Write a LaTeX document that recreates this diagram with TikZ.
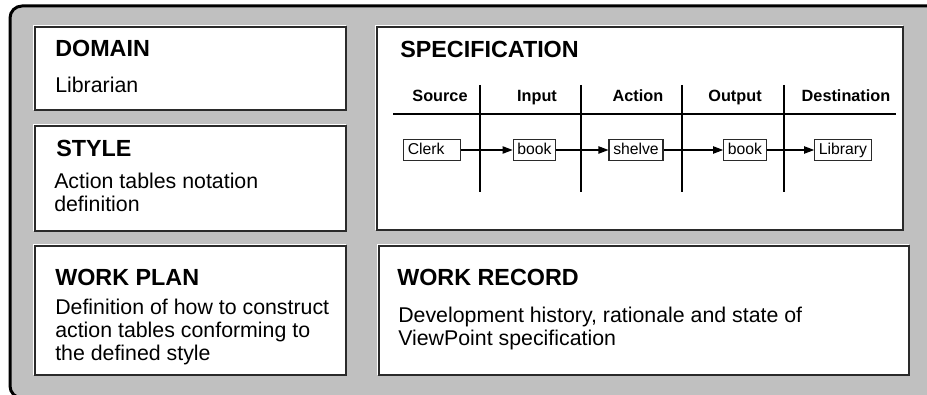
\documentclass[tikz,border=0pt]{standalone}
\usepackage{fontspec}
\setmainfont{Liberation Sans}
\usetikzlibrary{arrows.meta}
\definecolor{framegray}{HTML}{C0C0C0}
\definecolor{edgedark}{HTML}{2A2A2A}
\newcommand\vppanel[4]{%
  \draw[white, line width=0.9pt] (#1-1.5,#4) -- (#1-1.5,#2-1.5) -- (#3,#2-1.5);
  \draw[fill=white, draw=edgedark, line width=1pt] (#1,#2) rectangle (#3,#4);
}
\begin{document}
\begin{tikzpicture}[x=0.75pt,y=-0.75pt,
  head/.style={inner sep=0pt, anchor=base west, font=\fontsize{17.5}{21}\selectfont\bfseries},
  body/.style={inner sep=0pt, anchor=base west, font=\fontsize{16}{18}\selectfont},
  colhead/.style={inner sep=0pt, anchor=base, font=\fontsize{12.2}{14}\selectfont\bfseries},
  item/.style={draw=edgedark, line width=0.8pt, fill=white, inner xsep=3.2pt, inner ysep=2.6pt,
    text height=8.6pt, text depth=2.4pt, font=\fontsize{11.8}{13}\selectfont},
  rule/.style={line width=0.8pt, black},
  arr/.style={line width=0.8pt, black, -{Triangle[length=7.5pt, width=5.5pt]}}
]
\useasboundingbox (0,0) rectangle (927,395);
\begin{scope}
  \clip (0,0) rectangle (927,395);
  \draw[line width=2.25pt, fill=framegray, rounded corners=9pt] (10,6) rectangle (990,398);
\end{scope}

% panels
\vppanel{35}{27}{346}{110}
\vppanel{35}{126}{346}{231}
\vppanel{35}{246}{346}{375}
\vppanel{377}{27}{903}{230}
\vppanel{379}{246}{909}{375}

% DOMAIN
\node[head] (domh) at (55,57) {DOMAIN};
\node[body] (domb) at (55,93) {Librarian};
% STYLE
\node[head] (styh) at (56,157) {STYLE};
\node[body] (sty1) at (54,189) {Action tables notation};
\node[body] (sty2) at (54,212) {definition};
% WORK PLAN
\node[head] (wph) at (55,285) {WORK PLAN};
\node[body] (wp1) at (55,314) {Definition of how to construct};
\node[body] (wp2) at (55,337) {action tables conforming to};
\node[body] (wp3) at (55,360) {the defined style};
% SPECIFICATION
\node[head] (spech) at (400,58) {SPECIFICATION};
\node[colhead] (cs) at (440,102) {Source};
\node[colhead] (ci) at (537,102) {Input};
\node[colhead] (ca) at (638,102) {Action};
\node[colhead] (co) at (735,102) {Output};
\node[colhead] (cd) at (846,102) {Destination};
\coordinate (hl) at (393,114);
\coordinate (hr) at (896,114);
\draw[rule] (hl) -- (hr);
\foreach \xx/\nm in {480/a,581/b,682/c,784/d}{
  \coordinate (v\nm t) at (\xx,85);
  \coordinate (v\nm b) at (\xx,192);
  \draw[rule] (v\nm t) -- (v\nm b);
}
\node[item, anchor=west, text width=36pt, align=left] (clerk) at (403,150) {Clerk};
\node[item] (book1) at (534.5,150) {book};
\node[item] (shelve) at (636,150) {shelve};
\node[item] (book2) at (745,150) {book};
\node[item] (library) at (843,150) {Library};
\draw[arr] (clerk) -- (book1);
\draw[arr] (book1) -- (shelve);
\draw[arr] (shelve) -- (book2);
\draw[arr] (book2) -- (library);
% WORK RECORD
\node[head] (wrh) at (397,285) {WORK RECORD};
\node[body] (wr1) at (398,322) {Development history, rationale and state of};
\node[body] (wr2) at (398,345) {ViewPoint specification};
\end{tikzpicture}
\end{document}
